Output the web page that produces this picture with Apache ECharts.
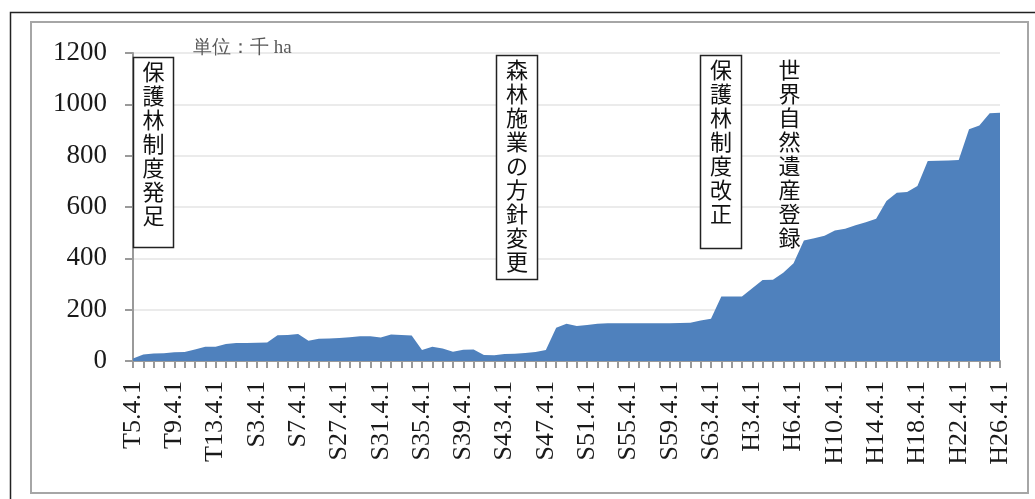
<!DOCTYPE html>
<html>
<head>
<meta charset="utf-8">
<script src="https://cdn.jsdelivr.net/npm/echarts@6/dist/echarts.min.js"></script>
<style>
html,body{margin:0;padding:0;background:#fff;}
#chart{width:1035px;height:499px;}
</style>
</head>
<body>
<div id="chart"></div>
<script>
// Categories (survey dates, Japanese era notation)
var categories = [
  'T5.4.1','T6.4.1','T7.4.1','T8.4.1','T9.4.1','T10.4.1','T11.4.1','T12.4.1','T13.4.1','T14.4.1',
  'S1.4.1','S2.4.1','S3.4.1','S4.4.1','S5.4.1','S6.4.1','S7.4.1',
  'S24.4.1','S25.4.1','S26.4.1','S27.4.1','S28.4.1','S29.4.1','S30.4.1','S31.4.1','S32.4.1','S33.4.1','S34.4.1',
  'S35.4.1','S36.4.1','S37.4.1','S38.4.1','S39.4.1','S40.4.1','S41.4.1','S42.4.1','S43.4.1','S44.4.1','S45.4.1','S46.4.1',
  'S47.4.1','S48.4.1','S49.4.1','S50.4.1','S51.4.1','S52.4.1','S53.4.1','S54.4.1','S55.4.1','S56.4.1','S57.4.1','S58.4.1',
  'S59.4.1','S60.4.1','S61.4.1','S62.4.1','S63.4.1',
  'H1.4.1','H2.4.1','H2.10.1','H3.4.1','H4.4.1','H5.4.1','H5.12.1','H6.4.1',
  'H7.4.1','H8.4.1','H9.4.1','H10.4.1','H11.4.1','H12.4.1','H13.4.1','H14.4.1','H15.4.1','H16.4.1','H17.4.1',
  'H18.4.1','H19.4.1','H20.4.1','H21.4.1','H22.4.1','H23.4.1','H24.4.1','H25.4.1','H26.4.1'
];
// Protected forest area (thousand ha)
var areaValues = [
  10,25,29,30,34,35,45,56,56,66,
  70,70,71,72,100,101,105,
  79,87,88,90,93,96,96,92,103,101,99,
  43,56,49,36,44,45,23,22,27,28,31,35,
  43,130,145,136,140,145,147,147,147,147,147,147,
  147,148,149,158,165,
  251,251,251,283,316,317,344,381,
  469,478,488,508,515,529,541,554,623,656,658,
  682,779,780,781,783,903,918,965,967
];
var yTicks = {min:0, max:1200, interval:200};
var unitLabel = '単位：千 ha';
var notes = [
  {text:'保護林制度発足', box:true},
  {text:'森林施業の方針変更', box:true},
  {text:'保護林制度改正', box:true},
  {text:'世界自然遺産登録', box:false}
];
// layout for the annotations (pixels)
var noteLayout = [
  {x:133, y:57, w:40, h:190},
  {x:496, y:55, w:41, h:224},
  {x:700, y:55, w:41, h:193},
  {x:769, y:55, w:40, h:200}
];

var chart = echarts.init(document.getElementById('chart'), null, {renderer:'canvas'});
var serif = '"Liberation Serif","DejaVu Serif",serif';
var cjk = '"Noto Sans CJK JP","Noto Sans",sans-serif';

var graphics = [
  {type:'rect', shape:{x:10.5, y:12.5, width:1040, height:500}, style:{fill:'none', stroke:'#222', lineWidth:1.5}, z:1, silent:true},
  {type:'rect', shape:{x:31, y:22, width:997, height:471}, style:{fill:'none', stroke:'#a6a6a6', lineWidth:2}, z:1, silent:true},
  {type:'text', x:193, y:48, style:{text:unitLabel, fontSize:19, fontFamily:serif, fill:'#595959', align:'left', verticalAlign:'middle'}, z:50}
];
notes.forEach(function(n, i){
  var L = noteLayout[i];
  if (n.box) {
    graphics.push({type:'rect', shape:{x:L.x+0.5, y:L.y+0.5, width:L.w, height:L.h}, style:{fill:'#fff', stroke:'#222', lineWidth:1.5}, z:60});
  }
  graphics.push({type:'text', x:L.x + L.w/2 + 0.5, y:L.y + 3,
    style:{text:n.text.split('').join('\n'), fontSize:22, fontFamily:cjk, fill:'#111', align:'center', verticalAlign:'top', lineHeight:24},
    z:61});
});

chart.setOption({
  animation:false,
  backgroundColor:'#fff',
  grid:{left:133, right:35, top:53, bottom:138, containLabel:false},
  xAxis:{
    type:'category',
    data:categories,
    boundaryGap:false,
    axisLine:{show:true, lineStyle:{color:'#9a9a9a', width:2}},
    axisTick:{show:true, interval:0, length:7, lineStyle:{color:'#9a9a9a', width:2}},
    axisLabel:{interval:3, rotate:90, margin:20, fontSize:26, fontFamily:serif, color:'#1a1a1a'},
    splitLine:{show:false}
  },
  yAxis:{
    type:'value',
    min:yTicks.min, max:yTicks.max, interval:yTicks.interval,
    axisLine:{show:true, lineStyle:{color:'#9a9a9a', width:2}},
    axisTick:{show:true, length:8, lineStyle:{color:'#9a9a9a', width:2}},
    axisLabel:{margin:26, fontSize:27, fontFamily:serif, color:'#1a1a1a', formatter:function(v){return String(v);}},
    splitLine:{show:true, lineStyle:{color:'#ebebeb', width:2}}
  },
  series:[{
    type:'line',
    data:areaValues,
    symbol:'none',
    lineStyle:{width:0, color:'#4F81BD'},
    areaStyle:{color:'#4F81BD', opacity:1},
    itemStyle:{color:'#4F81BD'},
    z:5
  }],
  graphic:graphics
});
</script>
</body>
</html>
